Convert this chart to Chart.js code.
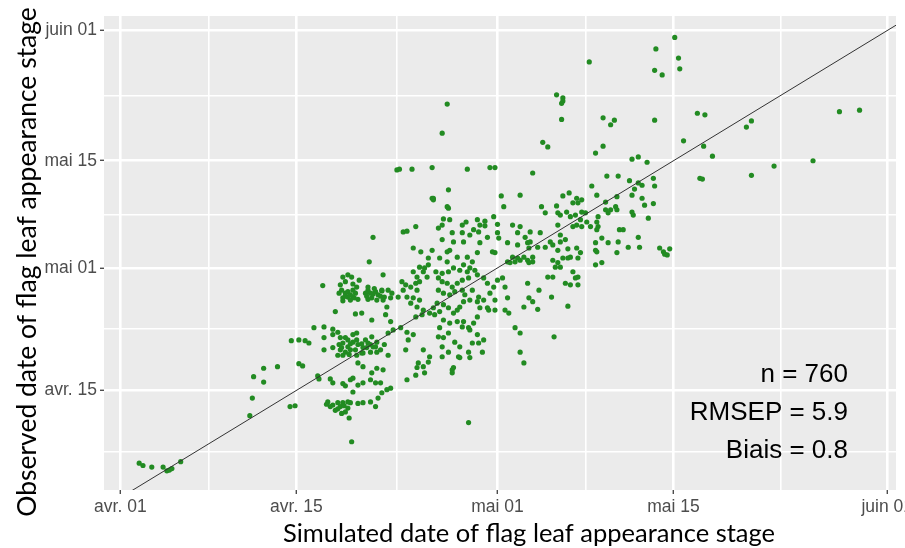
<!DOCTYPE html>
<html>
<head>
<meta charset="utf-8">
<script src="https://cdn.jsdelivr.net/npm/chart.js@4"></script>
<style>
  html, body { margin: 0; padding: 0; background: #ffffff; }
  #wrap { width: 905px; height: 548px; }
</style>
</head>
<body>
<div id="wrap"><canvas id="chart" width="905" height="548"></canvas></div>
<script>
// Jours depuis le 1er avril (avr. 01 = 0)
const xRange = [-1.3, 61.7];
const yRange = [1.0, 62.9];
const majorDays = [0, 14, 30, 44, 61];
const majorLabels = ['avr. 01', 'avr. 15', 'mai 01', 'mai 15', 'juin 01'];
const minorDaysX = [7, 22, 37, 52.5];
const minorDaysY = [6, 22, 37, 52.5];
const statsLines = ['n = 760', 'RMSEP = 5.9', 'Biais = 0.8'];
const xTitle = 'Simulated date of flag leaf appearance stage';
const yTitle = 'Observed date of flag leaf appearance stage';

// [simulé, observé]
const simObs = [
  // petit groupe en bas à gauche
  [1.5,4.5],[1.8,4.2],[2.5,4.0],[3.4,4.0],[3.7,3.5],[3.9,3.6],[4.1,3.8],[4.8,4.7],
  // zone avr. 10 - avr. 22
  [19.8,30.8],[17.7,28.8],[18.1,29.1],[18.4,28.8],[19.0,28.4],[16.1,27.7],[17.6,27.1],[17.9,26.7],
  [18.1,26.9],[18.5,27.1],[18.7,26.7],[17.7,26.1],[18.1,26.2],[18.5,26.2],[17.7,25.7],[18.3,25.8],
  [18.6,26.1],[19.7,27.1],[19.9,26.7],[20.3,26.9],[20.5,26.5],[19.7,25.9],[20.0,26.1],[20.4,25.8],
  [19.7,27.5],[17.1,24.3],[18.7,24.0],[19.2,24.1],[20.0,23.2],[15.4,22.2],[16.2,22.3],[16.9,22.0],
  [17.3,21.6],[16.9,21.3],[13.6,20.5],[14.2,20.6],[14.7,20.5],[15.0,20.2],[16.2,20.9],[16.2,19.3],
  [16.9,19.6],[17.5,20.9],[17.7,20.2],[18.1,20.6],[18.5,21.3],[18.8,21.5],[18.5,20.3],[18.9,20.0],
  [18.1,19.7],[17.5,19.3],[17.9,19.0],[18.3,19.3],[18.7,19.3],[17.3,18.6],[17.7,18.6],[19.3,19.6],
  [19.5,20.6],[19.7,20.2],[20.0,21.0],[20.1,19.7],[20.4,20.3],[19.9,19.0],[19.3,18.9],[20.4,19.0],
  [11.4,16.9],[12.5,17.1],[10.6,15.8],[11.4,15.1],[10.5,13.0],[10.3,10.7],[14.2,17.5],[14.5,17.2],
  [15.7,15.9],[15.8,15.5],[16.7,15.5],[16.9,15.0],[17.7,14.9],[17.9,14.6],[18.3,15.4],[18.5,15.6],
  [18.9,14.7],[19.3,15.0],[19.9,15.4],[20.3,15.0],[18.9,17.6],[19.3,17.1],[20.0,16.3],[20.4,16.9],
  [18.5,13.8],[13.5,11.9],[13.9,12.0],[16.5,12.5],[16.7,11.9],[17.3,12.4],[17.5,11.9],[17.7,12.4],
  [18.1,11.7],[18.3,12.4],[17.9,11.2],[18.9,12.3],[19.3,12.4],[19.9,12.5],[20.3,11.9],[20.5,13.0],
  [18.2,10.4],[18.4,7.3],
  [17.5,27.8],[17.9,28.2],[18.5,27.9],[18.8,27.5],[17.9,26.3],[18.3,26.5],[18.9,25.9],[17.4,26.7],
  [19.5,26.7],[20.2,27.3],[20.8,27.0],[21.0,26.2],[21.3,27.1],[20.7,26.3],[19.6,26.3],[20.1,26.6],
  [17.9,20.9],[18.3,20.1],[17.4,20.0],[18.8,20.6],[19.2,20.1],[19.6,19.6],[19.9,20.0],[20.3,19.7],
  [19.2,18.9],[18.2,18.7],[17.6,19.6],[18.8,18.6],[20.7,19.3],[21.0,20.0],
  [16.9,12.1],[17.3,11.6],[17.8,12.0],[18.1,12.5],[17.1,11.4],[17.6,11.0],[16.4,12.2],
  // zone avr. 22 - mai 03
  [24.9,38.9],[26.1,37.8],[26.0,38.0],[30.5,38.0],[22.5,34.7],[22.8,34.8],[23.5,35.4],[25.6,35.6],
  [25.7,36.4],[26.2,36.3],[27.2,35.6],[27.5,36.0],[28.4,36.3],[28.6,35.6],[29.0,36.1],[29.0,35.5],
  [29.7,36.7],[30.0,35.7],[31.2,35.6],[31.8,35.4],[25.3,35.2],[26.4,34.6],[26.5,33.4],[27.2,34.6],
  [27.3,33.4],[27.8,34.3],[28.1,35.0],[28.5,34.7],[28.6,33.3],[29.2,34.0],[30.0,34.6],[30.1,33.9],
  [31.6,34.6],[32.2,34.0],[32.4,33.3],[31.6,33.0],[30.8,33.3],[29.8,32.0],[29.6,32.1],[28.4,32.0],
  [27.6,31.4],[28.0,30.8],[27.3,30.4],[26.8,31.4],[26.2,32.3],[26.0,32.1],[25.6,33.7],[24.8,32.3],
  [23.3,32.6],[23.9,32.1],[24.5,31.3],[25.4,31.3],[26.0,30.8],[31.2,31.4],[31.6,31.3],[31.8,31.0],
  [32.1,31.4],[32.4,31.0],[32.5,30.7],[31.0,30.7],[31.4,30.8],[30.8,30.8],[32.5,32.6],[23.8,30.1],
  [24.1,29.5],[24.4,28.8],[23.6,28.8],[23.5,28.0],[23.6,27.1],[23.8,28.2],[24.2,30.0],[23.3,29.5],
  [24.5,30.4],[25.1,29.5],[25.6,29.3],[26.1,29.5],[26.5,30.0],[27.0,29.7],[27.6,29.5],[27.8,30.0],
  [28.2,29.7],[28.4,29.1],[27.7,28.7],[27.2,28.4],[26.8,28.0],[26.4,27.5],[26.0,28.0],[25.6,28.2],
  [25.3,28.7],[25.3,27.1],[25.7,26.7],[26.2,26.5],[26.6,26.9],[27.2,27.1],[27.4,26.5],[28.0,27.1],
  [28.5,26.2],[28.4,25.6],[27.8,25.8],[27.3,25.6],[27.0,24.9],[26.8,24.5],[26.5,24.1],[26.1,24.8],
  [25.7,25.2],[25.2,25.4],[24.9,24.8],[24.6,24.1],[25.0,23.9],[25.4,24.3],[25.7,23.2],[26.2,22.8],
  [26.8,23.0],[27.2,22.3],[27.7,22.2],[27.3,23.0],[25.4,22.2],[25.3,21.0],[25.7,20.9],[26.1,21.5],
  [26.6,20.3],[27.0,19.7],[26.9,18.4],[26.4,16.7],[26.4,16.3],[26.5,17.0],[22.4,28.2],[22.7,27.8],
  [23.1,27.5],[22.8,26.2],[22.5,27.1],[22.1,26.2],[23.3,26.1],[23.8,25.8],[23.1,25.4],[23.6,24.9],
  [24.1,24.5],[24.0,23.9],[23.5,23.6],[28.9,28.7],[29.2,28.0],[29.7,27.5],[29.4,26.7],[29.8,25.8],
  [28.9,25.8],[29.3,24.5],[28.6,24.8],[28.4,23.6],[28.1,22.8],[27.8,21.9],[28.4,21.3],[28.0,20.2],
  [28.5,20.2],[28.9,20.6],[28.8,19.0],[27.7,19.0],[27.8,18.3],[27.0,18.3],[26.1,19.0],[25.6,19.7],
  [25.6,18.4],[24.6,18.4],[24.5,17.7],[24.1,19.3],[23.7,17.6],[23.6,17.0],[24.1,17.1],[23.5,16.0],
  [22.8,15.4],[24.2,16.3],[22.7,19.3],[22.9,20.6],[23.3,21.3],[22.8,21.6],[22.3,22.2],[21.7,21.9],
  [21.3,21.5],[21.5,23.0],[21.1,23.9],[21.2,24.9],[20.9,25.8],[20.8,27.1],[21.6,26.7],[21.5,26.1],
  [20.9,29.1],[30.0,28.4],[30.4,28.7],[30.6,27.5],[30.8,26.1],[30.6,24.5],[30.9,24.1],[31.4,22.2],
  [31.8,21.5],[31.8,19.0],[32.1,17.6],[32.1,24.9],[32.5,26.1],[32.4,28.0],[20.7,15.0],[20.8,13.7],
  [21.2,14.1],[21.5,14.3],[20.9,16.7],[21.3,18.6],[29.2,24.8],[29.8,24.5],[27.7,9.8],
  // zone mai 03 - mai 17
  [37.8,45.0],[40.7,44.2],[41.2,44.5],[41.9,43.8],[32.8,42.4],[38.7,42.0],[39.6,42.0],[40.5,41.4],
  [41.2,41.1],[41.5,40.8],[42.4,41.7],[42.5,40.7],[37.5,40.7],[40.9,40.3],[35.2,39.4],[35.7,39.8],
  [36.3,39.1],[36.7,38.9],[36.0,38.5],[36.4,38.5],[37.9,39.5],[38.6,38.6],[39.5,39.3],[40.7,39.5],
  [41.5,39.1],[42.4,38.4],[41.7,38.2],[33.5,38.0],[33.8,37.2],[34.7,38.1],[34.8,37.2],[35.0,36.9],
  [35.5,37.3],[35.8,36.7],[36.2,36.9],[36.7,37.3],[37.0,37.2],[36.6,36.3],[36.3,35.6],[36.0,35.4],
  [36.7,35.4],[37.1,36.0],[37.4,35.4],[37.9,36.0],[38.0,36.7],[38.6,37.6],[39.0,37.6],[38.8,37.2],
  [39.4,38.0],[39.5,37.6],[40.7,37.3],[40.8,36.9],[42.0,36.5],[38.0,35.4],[34.8,35.6],[39.7,35.0],
  [40.0,35.0],[41.2,34.0],[37.9,35.0],[32.6,34.7],[33.4,34.6],[35.0,34.3],[35.4,33.7],[35.0,33.4],
  [34.2,33.4],[32.6,33.4],[33.2,32.7],[33.8,32.7],[34.4,33.0],[35.6,32.5],[36.3,32.6],[36.6,32.0],
  [36.4,31.3],[35.8,31.4],[35.6,31.3],[35.2,31.3],[34.8,32.3],[34.4,31.0],[34.8,30.7],[34.6,30.1],
  [35.0,30.1],[37.8,33.3],[38.3,33.9],[38.8,33.3],[37.8,32.3],[37.9,32.1],[39.6,33.4],[40.4,32.7],
  [39.5,32.0],[41.3,32.7],[37.8,30.4],[38.3,30.7],[42.9,32.6],[43.2,32.1],[43.5,31.7],[43.7,32.5],
  [43.3,31.8],[32.8,31.4],[32.8,30.8],[36.0,29.5],[36.4,28.8],[36.2,28.7],[35.4,28.0],[35.8,27.8],
  [36.4,27.8],[34.0,28.8],[34.4,28.8],[33.3,27.1],[34.3,26.2],[35.6,25.0],[32.8,25.6],[33.2,24.6],
  [34.5,21.0],
  // points hauts
  [37.3,56.9],[34.7,52.6],[35.2,52.2],[35.2,51.8],[35.1,51.5],[35.1,49.4],[26.0,51.4],[25.6,47.6],
  [33.6,46.4],[34.0,45.8],[22.0,42.8],[22.2,42.9],[23.2,42.9],[24.8,43.1],[27.6,42.9],[29.4,43.1],
  [29.8,43.1],[26.1,40.2],[24.8,39.1],[24.9,39.1],[30.3,39.4],[31.8,39.5],[20.1,34.0],
  // zone droite
  [44.1,60.1],[42.6,58.6],[42.5,55.8],[43.1,55.2],[44.4,57.4],[44.5,56.0],[45.9,50.2],[46.5,50.0],
  [42.5,49.3],[49.8,48.4],[50.2,49.2],[57.2,50.4],[58.8,50.6],[44.8,46.6],[46.4,45.9],[47.1,44.6],
  [52.0,43.3],[55.1,44.0],[50.2,42.1],[46.1,41.7],[46.3,41.6],[38.4,49.6],[39.3,49.3],[39.0,48.7],
  [38.4,45.9]
];

const majorSet = new Set(majorDays);
const isMajor = (v) => majorSet.has(v);
const labelFor = (v) => isMajor(v) ? majorLabels[majorDays.indexOf(v)] : '';
const ticksIn = (list, range) => list.filter(v => v >= range[0] && v <= range[1])
  .sort((a, b) => a - b).map(v => ({ value: v }));

// fond gris du panneau (style ggplot), titres d'axes et statistiques
const panelPlugin = {
  id: 'panel',
  beforeDraw(chart) {
    const { ctx, chartArea: a } = chart;
    ctx.save();
    ctx.fillStyle = '#EBEBEB';
    ctx.fillRect(a.left, a.top, a.right - a.left, a.bottom - a.top);
    ctx.restore();
  },
  afterDraw(chart) {
    const { ctx } = chart;
    ctx.save();
    ctx.fillStyle = '#000000';
    ctx.textBaseline = 'alphabetic';

    // titres des axes
    ctx.textAlign = 'center';
    ctx.font = '25.5px Lato, sans-serif';
    ctx.fillText(xTitle, 529, 542);
    ctx.save();
    ctx.translate(36, 262);
    ctx.rotate(-Math.PI / 2);
    ctx.font = '26.5px Lato, sans-serif';
    ctx.fillText(yTitle, 0, 0);
    ctx.restore();

    // statistiques
    ctx.font = '26px "Liberation Sans", Arial, sans-serif';
    ctx.textAlign = 'right';
    const baselines = [382, 420, 458];
    statsLines.forEach((t, i) => ctx.fillText(t, 848, baselines[i]));
    ctx.restore();
  }
};

function gridOpts() {
  return {
    color: '#FFFFFF',
    lineWidth: (c) => (c.tick && isMajor(c.tick.value)) ? 2.6 : 1.6,
    tickColor: (c) => (c.tick && isMajor(c.tick.value)) ? '#4D4D4D' : 'rgba(0,0,0,0)',
    tickWidth: 1.4,
    tickLength: 4,
    drawTicks: true
  };
}

const tickFont = { family: '"Liberation Sans", Arial, sans-serif', size: 17.5 };

new Chart(document.getElementById('chart'), {
  type: 'scatter',
  data: {
    datasets: [
      {
        type: 'line',
        label: 'y = x',
        data: [{ x: -5, y: -5 }, { x: 70, y: 70 }],
        borderColor: '#333333',
        borderWidth: 1,
        pointRadius: 0,
        order: 0
      },
      {
        label: 'observé vs simulé',
        data: simObs.map(p => ({ x: p[0], y: p[1] })),
        backgroundColor: '#228B22',
        borderWidth: 0,
        pointRadius: 2.6,
        order: 1
      }
    ]
  },
  options: {
    responsive: false,
    animation: false,
    layout: { padding: { left: 0, top: 16, right: 9, bottom: 0 } },
    plugins: { legend: { display: false }, tooltip: { enabled: false } },
    scales: {
      x: {
        type: 'linear',
        min: xRange[0],
        max: xRange[1],
        border: { display: false },
        grid: gridOpts(),
        afterBuildTicks: (s) => { s.ticks = ticksIn([...majorDays, ...minorDaysX], xRange); },
        afterFit: (s) => { s.height = 58; s.paddingLeft = 0; s.paddingRight = 0; },
        ticks: {
          autoSkip: false,
          maxRotation: 0,
          padding: 3,
          color: '#4D4D4D',
          font: tickFont,
          callback: (v) => labelFor(v)
        }
      },
      y: {
        type: 'linear',
        min: yRange[0],
        max: yRange[1],
        border: { display: false },
        grid: gridOpts(),
        afterBuildTicks: (s) => { s.ticks = ticksIn([...majorDays, ...minorDaysY], yRange); },
        afterFit: (s) => { s.width = 104; },
        ticks: {
          autoSkip: false,
          padding: 3,
          color: '#4D4D4D',
          font: tickFont,
          callback: (v) => labelFor(v)
        }
      }
    }
  },
  plugins: [panelPlugin]
});
</script>
</body>
</html>
